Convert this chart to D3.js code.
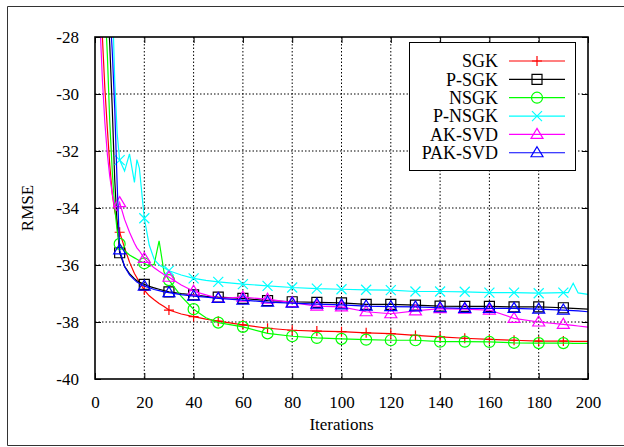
<!DOCTYPE html>
<html lang="en">
<head>
<meta charset="UTF-8">
<title>RMSE vs iterations</title>
<script src="https://d3js.org/d3.v7.min.js"></script>
<style>
  body { margin: 0; background: #fff; }
  text { font-family: "Liberation Serif", "DejaVu Serif", serif; fill: #000; }
</style>
</head>
<body>
<svg width="624" height="447" id="mainsvg"></svg>
<script>
const iterations = [1,2,3,4,5,6,7,8,9,10,12,14,16,17,18,20,22,24,26,28,30,35,40,45,50,
  60,70,80,90,100,110,120,130,140,150,160,170,180,190,192,194,196,200]

const sgk = [-22,-25.5,-28,-29.8,-31.2,-32.5,-33.5,-34.1,-34.5,-34.85,
  -35.4,-35.9,-36.3,-36.45,-36.6,-36.88,-37.08,-37.22,-37.35,-37.46,
  -37.58,-37.72,-37.81,-37.9,-37.97,-38.1,-38.22,-38.29,-38.32,-38.34,
  -38.38,-38.41,-38.47,-38.52,-38.57,-38.61,-38.64,-38.67,-38.67,-38.67,
  -38.68,-38.68,-38.68]
const psgk = [-15,-18,-21,-24,-26.5,-28.3,-30.5,-33,-34.6,-35.57,
  -36.05,-36.3,-36.48,-36.55,-36.6,-36.68,-36.75,-36.8,-36.85,-36.9,
  -36.94,-37,-37.05,-37.1,-37.13,-37.17,-37.25,-37.29,-37.31,-37.33,
  -37.38,-37.38,-37.41,-37.44,-37.45,-37.45,-37.47,-37.47,-37.5,-37.51,
  -37.52,-37.53,-37.55]
const nsgk = [-18,-21.5,-24.5,-26.8,-28.6,-31,-32.7,-34,-34.8,-35.26,
  -35.5,-35.65,-35.75,-35.8,-35.85,-35.94,-36.05,-35.98,-35.15,-36.25,
  -36.53,-37.1,-37.55,-37.85,-38.02,-38.17,-38.4,-38.5,-38.56,-38.59,
  -38.62,-38.64,-38.64,-38.69,-38.69,-38.7,-38.73,-38.74,-38.74,-38.74,
  -38.75,-38.75,-38.75]
const pnsgk = [-10,-13,-16,-19,-21.5,-24,-26.5,-29.5,-31.4,-32.32,
  -32.7,-32.1,-33.1,-32.3,-32.6,-34.36,-35.3,-35.8,-36,-36.1,
  -36.2,-36.35,-36.47,-36.54,-36.59,-36.67,-36.73,-36.79,-36.83,-36.85,
  -36.87,-36.88,-36.93,-36.93,-36.94,-36.97,-36.97,-36.99,-36.97,-36.97,
  -36.64,-36.98,-37.03]
const aksvd = [-25,-27.5,-29.5,-31,-32.1,-32.9,-33.5,-34,-34.1,-33.81,
  -34.4,-34.85,-35.24,-35.4,-35.5,-35.77,-35.95,-36.1,-36.22,-36.33,
  -36.43,-36.7,-36.92,-37.05,-37.17,-37.13,-37.2,-37.32,-37.44,-37.47,
  -37.64,-37.71,-37.61,-37.53,-37.55,-37.58,-37.87,-38,-38.08,-38.1,
  -38.12,-38.14,-38.18]
const paksvd = [-14,-17,-20,-22.5,-25,-27,-28.5,-30.5,-33.2,-35.47,
  -36.05,-36.35,-36.52,-36.6,-36.65,-36.74,-36.8,-36.86,-36.9,-36.94,
  -36.97,-37.04,-37.09,-37.13,-37.17,-37.23,-37.3,-37.34,-37.37,-37.4,
  -37.44,-37.46,-37.47,-37.5,-37.52,-37.52,-37.52,-37.55,-37.58,-37.59,
  -37.6,-37.61,-37.64]

const seriesNames = ["SGK", "P-SGK", "NSGK", "P-NSGK", "AK-SVD", "PAK-SVD"]
const seriesValues = [sgk, psgk, nsgk, pnsgk, aksvd, paksvd]
const seriesColors = ["#ff0000", "#000000", "#00ff00", "#00ffff", "#ff00ff", "#0000ff"]
const seriesMarkers = ["plus", "square", "circle", "cross", "triangle", "triangle"]

const xTicks = [0, 20, 40, 60, 80, 100, 120, 140, 160, 180, 200]
const yTicks = [-40, -38, -36, -34, -32, -30, -28]

const svg = d3.select("#mainsvg")
const margin = {top: 37, right: 36, bottom: 68, left: 95}
const width = +svg.attr("width"), height = +svg.attr("height")
const innerWidth = width - margin.left - margin.right
const innerHeight = height - margin.top - margin.bottom

// outer frame of the figure: left, top and bottom edges (the right one is past the window)
const frame = svg.append("g").attr("stroke", "#333").attr("stroke-width", 1)
frame.append("line").attr("x1", 7.5).attr("x2", 7.5).attr("y1", 6.5).attr("y2", 445.5)
frame.append("line").attr("x1", 7.5).attr("x2", width).attr("y1", 6.5).attr("y2", 6.5)
frame.append("line").attr("x1", 7.5).attr("x2", width).attr("y1", 445.5).attr("y2", 445.5)

const g = svg.append("g").attr("transform", `translate(${margin.left}, ${margin.top})`)

const xScale = d3.scaleLinear().domain([0, 200]).range([0, innerWidth])
const yScale = d3.scaleLinear().domain([-40, -28]).range([innerHeight, 0])

// dotted grid
g.append("g").selectAll("line").data(xTicks.slice(1, -1)).join("line")
  .attr("x1", d => xScale(d)).attr("x2", d => xScale(d))
  .attr("y1", 0).attr("y2", innerHeight)
  .attr("stroke", "#000").attr("stroke-width", 1).attr("stroke-dasharray", "1.5,2")
g.append("g").selectAll("line").data(yTicks.slice(1, -1)).join("line")
  .attr("y1", d => yScale(d)).attr("y2", d => yScale(d))
  .attr("x1", 0).attr("x2", innerWidth)
  .attr("stroke", "#000").attr("stroke-width", 1).attr("stroke-dasharray", "1.5,2")

// axes, ticks pointing inwards on all sides
const styleAxis = sel => {
  sel.attr("font-family", null).attr("font-size", 17)
  sel.select(".domain").remove()
  sel.selectAll(".tick line").attr("stroke", "#000")
}
g.append("g").attr("transform", `translate(0, ${innerHeight})`)
  .call(d3.axisBottom(xScale).tickValues(xTicks).tickSize(-6).tickPadding(17).tickFormat(d => String(d)))
  .call(styleAxis)
g.append("g")
  .call(d3.axisLeft(yScale).tickValues(yTicks).tickSize(-6).tickPadding(16).tickFormat(d => String(d)))
  .call(styleAxis)
const topAxis = g.append("g")
  .call(d3.axisTop(xScale).tickValues(xTicks).tickSize(-6))
  .call(styleAxis)
topAxis.selectAll(".tick text").remove()
const rightAxis = g.append("g").attr("transform", `translate(${innerWidth}, 0)`)
  .call(d3.axisRight(yScale).tickValues(yTicks).tickSize(-6))
  .call(styleAxis)
rightAxis.selectAll(".tick text").remove()

svg.append("defs").append("clipPath").attr("id", "plotClip")
  .append("rect").attr("width", innerWidth).attr("height", innerHeight)

function markerPath(type) {
  const s = 5
  if (type === "plus") return `M${-s},0H${s}M0,${-s}V${s}`
  if (type === "cross") return `M${-s},${-s}L${s},${s}M${-s},${s}L${s},${-s}`
  if (type === "square") return `M${-s},${-s}H${s}V${s}H${-s}Z`
  if (type === "triangle") return `M0,${-s - 1}L${s + 1},${s - 1}L${-s - 1},${s - 1}Z`
  return d3.arc()({innerRadius: 0, outerRadius: s + 0.5, startAngle: 0, endAngle: 2 * Math.PI})
}

const line = d3.line()
  .x(d => xScale(d[0]))
  .y(d => yScale(d[1]))

const plot = g.append("g").attr("clip-path", "url(#plotClip)")
seriesValues.forEach((vals, k) => {
  const pts = iterations.map((it, i) => [it, vals[i]])
  plot.append("path").datum(pts)
    .attr("fill", "none").attr("stroke", seriesColors[k]).attr("stroke-width", 1.2)
    .attr("d", line)
  plot.append("g").selectAll("path")
    .data(pts.filter(p => p[0] % 10 === 0 && p[0] >= 10 && p[0] <= 190))
    .join("path")
    .attr("transform", d => `translate(${xScale(d[0])}, ${yScale(d[1])})`)
    .attr("d", markerPath(seriesMarkers[k]))
    .attr("fill", "none").attr("stroke", seriesColors[k]).attr("stroke-width", 1.2)
})

// plot border
g.append("rect").attr("width", innerWidth).attr("height", innerHeight)
  .attr("fill", "none").attr("stroke", "#000").attr("stroke-width", 1.6)

// legend
const legend = svg.append("g")
legend.append("rect").attr("x", 409.5).attr("y", 42.5).attr("width", 166).attr("height", 128)
  .attr("fill", "#fff").attr("stroke", "#000").attr("stroke-width", 1)
seriesNames.forEach((name, k) => {
  const y = 61 + k * 18.35
  legend.append("text").attr("x", 498).attr("y", y).attr("dy", "0.35em")
    .attr("text-anchor", "end").attr("font-size", 18).text(name)
  legend.append("line").attr("x1", 509).attr("x2", 565).attr("y1", y).attr("y2", y)
    .attr("stroke", seriesColors[k]).attr("stroke-width", 1.2)
  legend.append("path").attr("transform", `translate(537, ${y})`)
    .attr("d", markerPath(seriesMarkers[k]))
    .attr("fill", "none").attr("stroke", seriesColors[k]).attr("stroke-width", 1.2)
})

// axis titles
svg.append("text").attr("x", margin.left + innerWidth / 2).attr("y", 430)
  .attr("text-anchor", "middle").attr("font-size", 17).text("Iterations")
svg.append("text").attr("transform", "translate(33, 208) rotate(-90)")
  .attr("text-anchor", "middle").attr("font-size", 17).text("RMSE")
</script>
</body>
</html>
